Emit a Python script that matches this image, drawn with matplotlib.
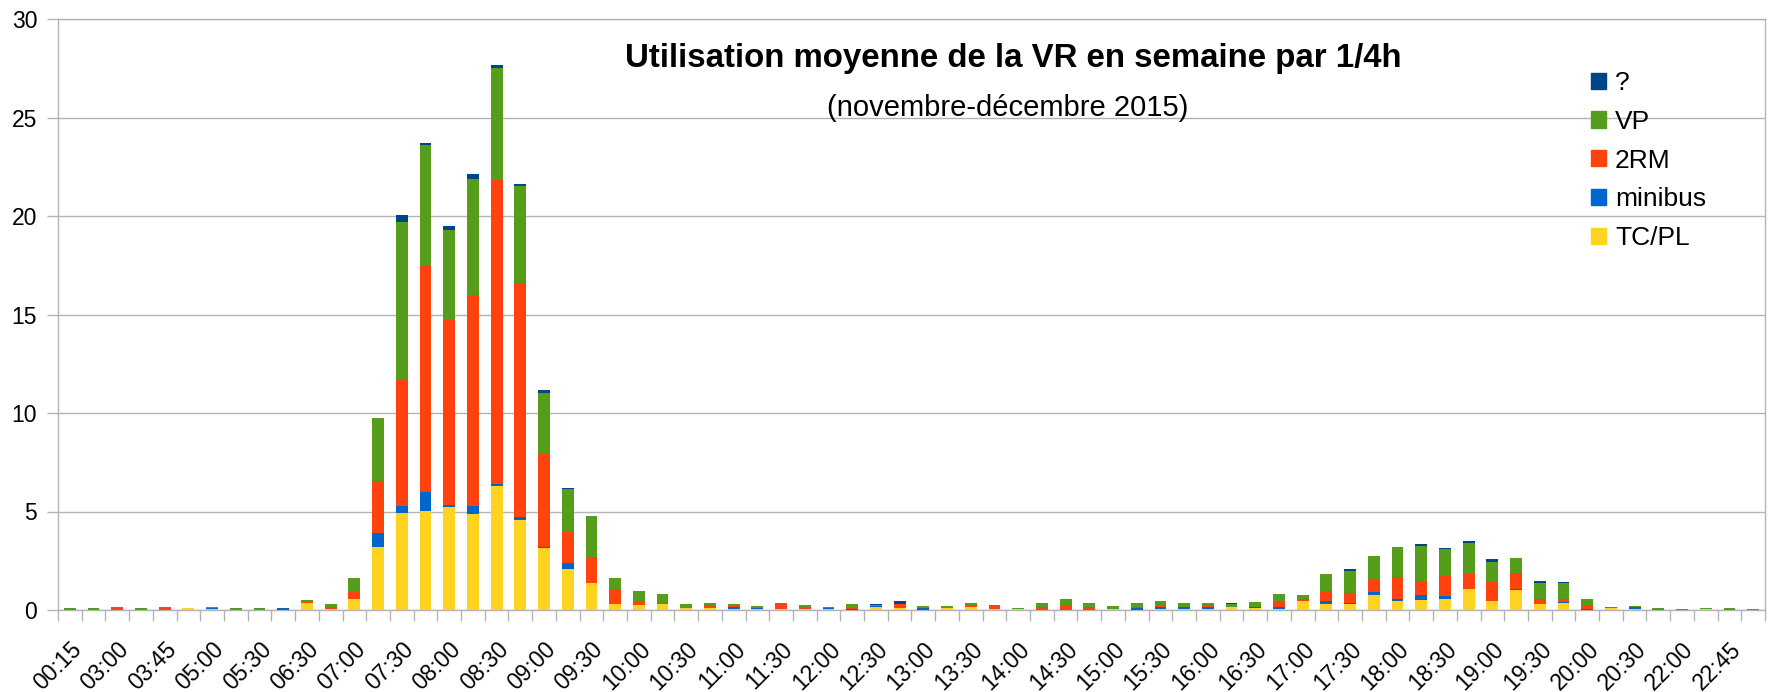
import numpy as np
import matplotlib
matplotlib.use('Agg')
import matplotlib.pyplot as plt
from matplotlib.patches import Patch
from matplotlib import font_manager

# Time slots (quarter hours, night slots are sparse)
slots = ['00:15', '01:00', '03:00', '03:30', '03:45', '04:30', '05:00', '05:15',
         '05:30', '06:00', '06:30', '06:45', '07:00', '07:15', '07:30', '07:45',
         '08:00', '08:15', '08:30', '08:45', '09:00', '09:15', '09:30', '09:45',
         '10:00', '10:15', '10:30', '10:45', '11:00', '11:15', '11:30', '11:45',
         '12:00', '12:15', '12:30', '12:45', '13:00', '13:15', '13:30', '13:45',
         '14:00', '14:15', '14:30', '14:45', '15:00', '15:15', '15:30', '15:45',
         '16:00', '16:15', '16:30', '16:45', '17:00', '17:15', '17:30', '17:45',
         '18:00', '18:15', '18:30', '18:45', '19:00', '19:15', '19:30', '19:45',
         '20:00', '20:15', '20:30', '20:45', '22:00', '22:15', '22:45', '23:15']

tcpl = [0, 0, 0, 0, 0, 0.08, 0.05, 0, 0, 0, 0.38, 0.05,
        0.56, 3.2, 4.93, 5.03, 5.24, 4.88, 6.27, 4.58, 3.15, 2.08, 1.37, 0.31,
        0.25, 0.29, 0.12, 0.12, 0.05, 0.03, 0.07, 0.07, 0.03, 0, 0.17, 0.12,
        0, 0.08, 0.17, 0.03, 0.05, 0, 0, 0, 0.03, 0, 0.07, 0.03,
        0.03, 0.15, 0.12, 0.05, 0.46, 0.31, 0.31, 0.76, 0.46, 0.51, 0.56, 1.07,
        0.46, 1.02, 0.31, 0.36, 0, 0.1, 0.05, 0, 0, 0.05, 0, 0]
minibus = [0, 0, 0, 0, 0, 0, 0.05, 0, 0, 0.12, 0, 0,
           0, 0.71, 0.36, 0.97, 0.1, 0.41, 0.15, 0.12, 0.05, 0.31, 0, 0,
           0, 0, 0, 0, 0.08, 0.05, 0, 0, 0.05, 0.05, 0.03, 0,
           0.08, 0, 0, 0, 0, 0, 0, 0, 0, 0.1, 0.1, 0.1,
           0.12, 0.02, 0.03, 0.1, 0, 0.15, 0.05, 0.15, 0.1, 0.25, 0.15, 0,
           0, 0.05, 0, 0.05, 0.05, 0, 0.1, 0, 0, 0, 0, 0]
deux_rm = [0, 0, 0.08, 0, 0.08, 0, 0, 0, 0, 0, 0.05, 0.1,
           0.37, 2.64, 6.42, 11.48, 9.4, 10.7, 15.42, 11.91, 4.75, 1.59, 1.32, 0.76,
           0.2, 0.05, 0, 0.12, 0.05, 0, 0.22, 0.1, 0.05, 0.07, 0, 0.17,
           0, 0, 0.07, 0.2, 0, 0.17, 0.25, 0.17, 0, 0.05, 0.08, 0.03,
           0.08, 0, 0, 0.31, 0.1, 0.51, 0.51, 0.66, 1.12, 0.71, 1.02, 0.76,
           0.97, 0.81, 0.25, 0.15, 0.2, 0.03, 0, 0.07, 0, 0, 0.05, 0]
vp = [0.08, 0.08, 0.05, 0.08, 0.05, 0, 0.05, 0.12, 0.1, 0, 0.07, 0.14,
      0.71, 3.2, 7.99, 6.12, 4.55, 5.89, 5.69, 4.89, 3.08, 2.17, 2.09, 0.56,
      0.51, 0.46, 0.17, 0.14, 0.12, 0.12, 0.08, 0.1, 0, 0.17, 0.07, 0,
      0.1, 0.1, 0.1, 0, 0.05, 0.17, 0.29, 0.17, 0.15, 0.22, 0.2, 0.19,
      0.12, 0.15, 0.25, 0.36, 0.2, 0.86, 1.12, 1.17, 1.53, 1.78, 1.37, 1.58,
      1.02, 0.76, 0.81, 0.81, 0.3, 0.02, 0.05, 0.03, 0.05, 0.03, 0.05, 0.05]
inconnu = [0, 0, 0, 0, 0, 0, 0, 0, 0, 0, 0, 0,
           0, 0, 0.35, 0.11, 0.2, 0.25, 0.13, 0.13, 0.16, 0.05, 0, 0,
           0, 0, 0, 0, 0, 0, 0, 0, 0, 0, 0.05, 0.17,
           0, 0, 0, 0, 0, 0, 0, 0, 0, 0, 0, 0,
           0, 0.05, 0, 0, 0, 0, 0.1, 0, 0, 0.1, 0.05, 0.1,
           0.15, 0, 0.1, 0.05, 0, 0, 0, 0, 0, 0, 0, 0]

series = [('TC/PL', tcpl, '#ffd320'),
          ('minibus', minibus, '#0066cc'),
          ('2RM', deux_rm, '#ff420e'),
          ('VP', vp, '#579d1c'),
          ('?', inconnu, '#004586')]

names = {f.name for f in font_manager.fontManager.ttflist}
narrow = 'Liberation Sans Narrow' in names
title_font = 'Liberation Sans Narrow' if narrow else 'Liberation Sans'
plt.rcParams['font.family'] = ['Liberation Sans', 'DejaVu Sans']

W, H = 1768, 692
fig = plt.figure(figsize=(W / 100, H / 100), dpi=100)
ax = fig.add_axes([58 / W, (H - 610) / H, (1765 - 58) / W, (610 - 19) / H])

x = np.arange(len(slots))
bottom = np.zeros(len(slots))
for name, vals, col in series:
    vals = np.array(vals)
    ax.bar(x, vals, width=0.5, bottom=bottom, color=col, zorder=3)
    bottom += vals

ax.set_xlim(-0.5, len(slots) - 0.5)
ax.set_ylim(0, 30)
ax.set_yticks(range(0, 31, 5))
ax.yaxis.grid(True, color='#b3b3b3', linewidth=1, zorder=0)
ax.set_axisbelow(True)

ax.set_xticks(x[::2])
ax.set_xticklabels(slots[::2], rotation=45, ha='right', rotation_mode='anchor')
ax.set_xticks(np.arange(-0.5, len(slots), 1), minor=True)
ax.tick_params(axis='x', which='major', length=0, pad=20, labelsize=16.5)
ax.tick_params(axis='x', which='minor', length=8, color='#b3b3b3', width=1)
ax.tick_params(axis='y', length=8, color='#b3b3b3', width=1, pad=7, labelsize=16.5)
for sp in ax.spines.values():
    sp.set_color('#b3b3b3')
    sp.set_linewidth(1)

fig.text(1013 / W, 1 - 59 / H, 'Utilisation moyenne de la VR en semaine par 1/4h',
         ha='center', va='center', fontsize=27 if narrow else 23.8,
         fontweight='bold', family=title_font)
fig.text(1008 / W, 1 - 108 / H, '(novembre-décembre 2015)',
         ha='center', va='center', fontsize=24 if narrow else 21, family=title_font)

handles = [Patch(color=col, label=name) for name, vals, col in series][::-1]
ax.legend(handles=handles, loc='upper left', bbox_to_anchor=(1591 / W, 1 - 71 / H),
          bbox_transform=fig.transFigure, frameon=False, fontsize=19,
          handlelength=0.57, handleheight=0.57, handletextpad=0.34,
          labelspacing=0.56, borderpad=0, borderaxespad=0)

fig.savefig('out.png', dpi=100)
